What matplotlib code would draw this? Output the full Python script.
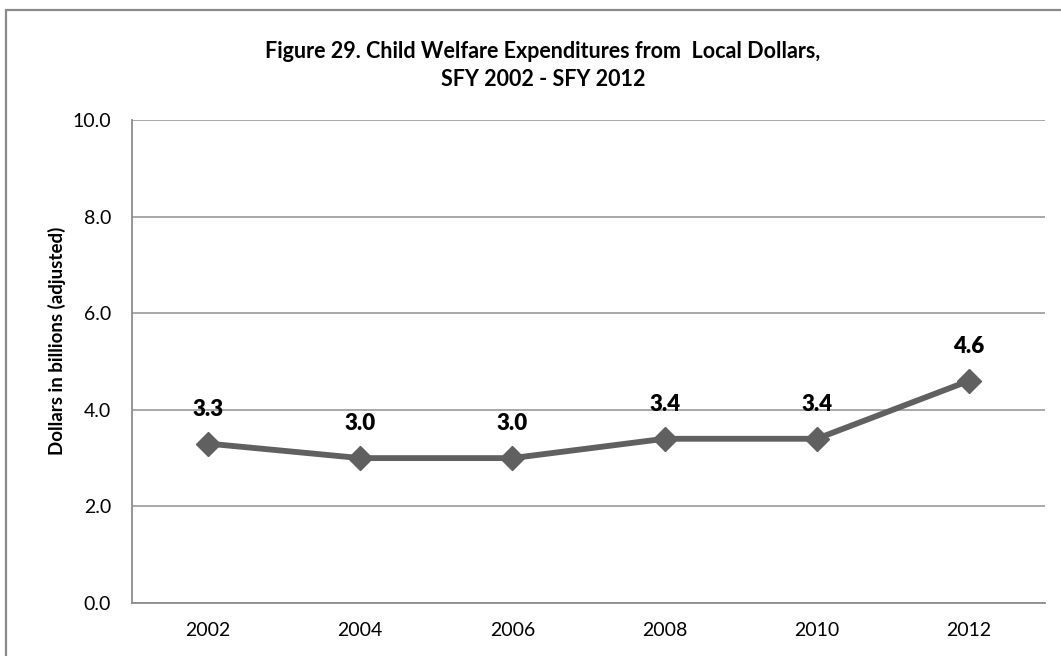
import matplotlib
matplotlib.use("Agg")
import matplotlib.pyplot as plt
from matplotlib.patches import Rectangle

years = ["2002", "2004", "2006", "2008", "2010", "2012"]
values = [3.3, 3.0, 3.0, 3.4, 3.4, 4.6]
y_ticks = [0, 2, 4, 6, 8, 10]

plt.rcParams["font.family"] = ["Lato", "DejaVu Sans"]

fig = plt.figure(figsize=(10.61, 6.56), dpi=100)
ax = fig.add_axes([132 / 1061, 1 - 603 / 656, (1045 - 132) / 1061, (603 - 120) / 656])

x = list(range(len(years)))
ax.plot(x, values, color="#606060", lw=4.2, marker="D", markersize=12,
        markerfacecolor="#606060", markeredgecolor="#606060", zorder=3)

for xi, v in zip(x, values):
    ax.annotate(f"{v:.1f}", (xi, v), xytext=(0, 17), textcoords="offset points",
                ha="center", va="bottom", fontsize=16, fontweight="heavy", color="black")

ax.set_xlim(-0.5, len(years) - 0.5)
ax.set_ylim(0, 10)
ax.set_xticks(x)
ax.set_xticklabels(years)
ax.set_yticks(y_ticks)
ax.set_yticklabels([f"{t:.1f}" for t in y_ticks])
ax.tick_params(length=0, labelsize=14, colors="black")
ax.tick_params(axis="y", pad=15)
ax.tick_params(axis="x", pad=14)
ax.grid(axis="y", color="#9a9a9a", lw=1.2)
ax.set_axisbelow(True)
for side in ("top", "right"):
    ax.spines[side].set_visible(False)
for side in ("left", "bottom"):
    ax.spines[side].set_color("#8c8c8c")
    ax.spines[side].set_linewidth(1.3)

ax.set_ylabel("Dollars in billions (adjusted)", fontsize=13.5, fontweight="bold")
ax.yaxis.set_label_coords(-0.072, 0.542)

fig.text(543 / 1061, 1 - 52 / 656, "Figure 29. Child Welfare Expenditures from  Local Dollars,",
         ha="center", va="center", fontsize=15.5, fontweight="bold")
fig.text(543 / 1061, 1 - 79 / 656, "SFY 2002 - SFY 2012",
         ha="center", va="center", fontsize=15.5, fontweight="bold")

fig.add_artist(Rectangle((6 / 1061, -0.1), 1.2, 1.1 - 10 / 656, transform=fig.transFigure,
                         fill=False, edgecolor="#8a8a8a", lw=1.6))

fig.savefig("out.png", dpi=100)
